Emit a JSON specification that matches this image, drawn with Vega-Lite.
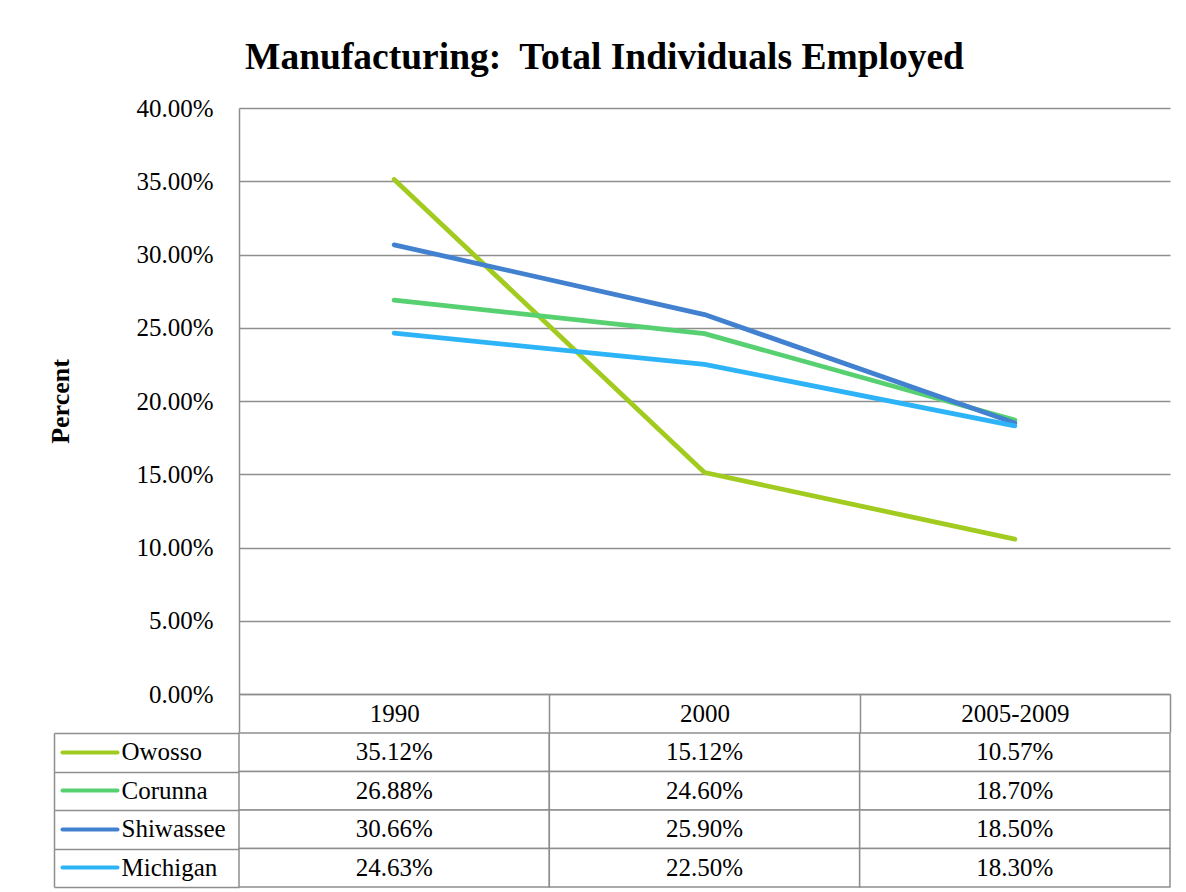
{
  "$schema": "https://vega.github.io/schema/vega-lite/v6.json",
  "background": "white",
  "padding": {"left": 47, "top": 38, "right": 5, "bottom": 5},
  "config": {
    "font": "Liberation Serif",
    "view": {"stroke": null},
    "axis": {"labelFont": "Liberation Serif", "titleFont": "Liberation Serif"},
    "title": {"font": "Liberation Serif"}
  },
  "data": {
    "values": [
      {"series": "Owosso", "period": "1990", "value": 0.3512},
      {"series": "Owosso", "period": "2000", "value": 0.1512},
      {"series": "Owosso", "period": "2005-2009", "value": 0.1057},
      {"series": "Corunna", "period": "1990", "value": 0.2688},
      {"series": "Corunna", "period": "2000", "value": 0.246},
      {"series": "Corunna", "period": "2005-2009", "value": 0.187},
      {"series": "Shiwassee", "period": "1990", "value": 0.3066},
      {"series": "Shiwassee", "period": "2000", "value": 0.259},
      {"series": "Shiwassee", "period": "2005-2009", "value": 0.185},
      {"series": "Michigan", "period": "1990", "value": 0.2463},
      {"series": "Michigan", "period": "2000", "value": 0.225},
      {"series": "Michigan", "period": "2005-2009", "value": 0.183}
    ]
  },
  "spacing": -2,
  "vconcat": [
    {
      "width": 931,
      "height": 586,
      "title": {
        "text": "Manufacturing:\u00a0 Total Individuals Employed",
        "fontSize": 37.5,
        "fontWeight": "bold",
        "color": "black",
        "anchor": "middle",
        "dx": -100,
        "offset": 20
      },
      "mark": {"type": "line", "strokeWidth": 4.8, "strokeCap": "round", "strokeJoin": "round"},
      "encoding": {
        "x": {
          "field": "period",
          "type": "ordinal",
          "sort": ["1990", "2000", "2005-2009"],
          "scale": {"type": "band", "paddingInner": 0, "paddingOuter": 0},
          "axis": {
            "title": null,
            "labelAngle": 0,
            "labelFontSize": 25,
            "labelColor": "black",
            "labelBaseline": "middle",
            "labelPadding": -19,
            "tickBand": "extent",
            "tickSize": 38,
            "tickColor": "#8E8E8E",
            "tickWidth": 1.5,
            "domainColor": "#8E8E8E",
            "domainWidth": 1.5,
            "grid": false
          }
        },
        "y": {
          "field": "value",
          "type": "quantitative",
          "scale": {"domain": [0, 0.4], "nice": false},
          "axis": {
            "values": [0, 0.05, 0.1, 0.15, 0.2, 0.25, 0.3, 0.35, 0.4],
            "format": ".2%",
            "title": "Percent",
            "titleFontSize": 26,
            "titleFontWeight": "bold",
            "titleColor": "black",
            "titlePadding": 62,
            "labelFontSize": 25,
            "labelColor": "black",
            "labelPadding": 26,
            "ticks": false,
            "domainColor": "#8E8E8E",
            "domainWidth": 1.5,
            "grid": true,
            "gridColor": "#8E8E8E",
            "gridWidth": 1.5
          }
        },
        "color": {
          "field": "series",
          "type": "nominal",
          "scale": {
            "domain": ["Owosso", "Corunna", "Shiwassee", "Michigan"],
            "range": ["#A2CB20", "#57D071", "#4281CF", "#2DB3F7"]
          },
          "legend": null
        }
      }
    },
    {
      "width": 931,
      "height": 154,
      "layer": [
        {
          "mark": {"type": "rect", "fill": "white", "stroke": "#8E8E8E", "strokeWidth": 1.5},
          "encoding": {
            "x": {
              "field": "period",
              "type": "ordinal",
              "sort": ["1990", "2000", "2005-2009"],
              "scale": {"type": "band", "paddingInner": 0, "paddingOuter": 0},
              "axis": null
            },
            "y": {
              "field": "series",
              "type": "nominal",
              "sort": ["Owosso", "Corunna", "Shiwassee", "Michigan"],
              "scale": {"type": "band", "paddingInner": 0, "paddingOuter": 0},
              "axis": {
                "orient": "left",
                "title": null,
                "offset": 122,
                "domain": false,
                "grid": false,
                "tickSize": 55,
                "tickWidth": 4,
                "tickCap": "round",
                "tickColor": {
                  "condition": [
                    {"test": "datum.value === 'Owosso'", "value": "#A2CB20"},
                    {"test": "datum.value === 'Corunna'", "value": "#57D071"},
                    {"test": "datum.value === 'Shiwassee'", "value": "#4281CF"}
                  ],
                  "value": "#2DB3F7"
                },
                "labelAlign": "left",
                "labelBaseline": "middle",
                "labelPadding": -59,
                "labelFontSize": 25,
                "labelColor": "black"
              }
            }
          }
        },
        {
          "mark": {"type": "text", "fontSize": 25, "font": "Liberation Serif", "color": "black"},
          "encoding": {
            "x": {
              "field": "period",
              "type": "ordinal",
              "sort": ["1990", "2000", "2005-2009"],
              "axis": null
            },
            "y": {
              "field": "series",
              "type": "nominal",
              "sort": ["Owosso", "Corunna", "Shiwassee", "Michigan"],
              "axis": {
                "orient": "left",
                "title": null,
                "offset": 185,
                "labels": false,
                "grid": false,
                "domain": true,
                "domainColor": "#8E8E8E",
                "domainWidth": 1.5,
                "tickBand": "extent",
                "tickSize": -185,
                "tickColor": "#8E8E8E",
                "tickWidth": 1.5
              }
            },
            "text": {"field": "value", "type": "quantitative", "format": ".2%"}
          }
        }
      ],
      "resolve": {"axis": {"y": "independent"}}
    }
  ]
}
